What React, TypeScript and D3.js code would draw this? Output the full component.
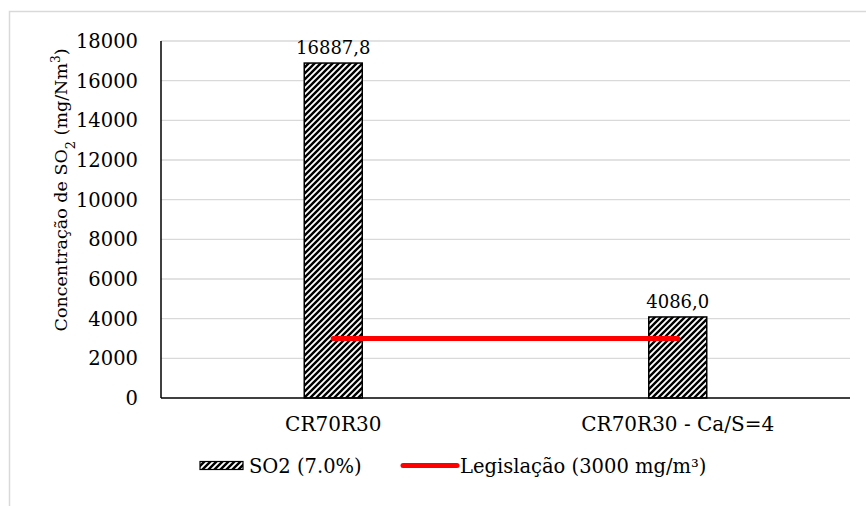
import React from "react";
import * as d3 from "d3";

const categories = ["CR70R30", "CR70R30 - Ca/S=4"];
const so2Values = [16887.8, 4086.0];
const so2Labels = ["16887,8", "4086,0"];
const legislationLimit = 3000;
const yTicks = [0, 2000, 4000, 6000, 8000, 10000, 12000, 14000, 16000, 18000];
const seriesNames = ["SO2 (7.0%)", "Legislação (3000 mg/m³)"];

const W = 866;
const H = 506;
const margin = { left: 161, right: 16, top: 41, bottom: 108 };
const FONT = "DejaVu Serif, serif";
const txt = { fontFamily: FONT, fill: "#000" } as const;

export default function App() {
  const plotW = W - margin.left - margin.right;
  const plotBottom = 398;

  const x = d3.scaleBand<string>().domain(categories).range([margin.left, margin.left + plotW]).paddingInner(0).paddingOuter(0);
  const y = d3.scaleLinear().domain([0, 18000]).range([plotBottom, margin.top]);

  const barW = 58;
  const center = (c: string) => (x(c) ?? 0) + x.bandwidth() / 2;

  return (
    <svg
      width={W}
      height={H}
      style={{ position: "absolute", left: 0, top: 0, background: "#fff", fontFamily: FONT }}
    >
      <defs>
        <pattern id="hatch" patternUnits="userSpaceOnUse" width="6" height="6">
          <rect width="6" height="6" fill="#fff" />
          <path d="M-1,1 l2,-2 M0,6 l6,-6 M5,7 l2,-2" stroke="#000" strokeWidth="2.4" />
        </pattern>
      </defs>

      {/* outer chart frame */}
      <rect x={9.5} y={11.5} width={W + 20} height={H + 20} fill="none" stroke="#d9d9d9" strokeWidth={1.5} />

      {/* gridlines */}
      {yTicks.slice(1).map((t) => (
        <line key={t} x1={margin.left} x2={margin.left + plotW} y1={y(t)} y2={y(t)} stroke="#d9d9d9" strokeWidth={1.3} />
      ))}

      {/* y tick labels */}
      {yTicks.map((t) => (
        <text key={t} x={138} y={y(t)} dy="0.36em" textAnchor="end" fontSize={19.5} style={txt}>
          {t}
        </text>
      ))}

      {/* y axis title */}
      <text transform={`translate(67, 190) rotate(-90)`} textAnchor="middle" fontSize={17.5} style={txt}>
        Concentração de SO<tspan baselineShift="sub" fontSize={13}>2</tspan> (mg/Nm<tspan baselineShift="super" fontSize={12}>3</tspan>)
      </text>

      {/* bars */}
      {categories.map((c, i) => (
        <g key={c}>
          <rect
            x={center(c) - barW / 2}
            y={y(so2Values[i])}
            width={barW}
            height={plotBottom - y(so2Values[i])}
            fill="url(#hatch)"
            stroke="#000"
            strokeWidth={1.5}
          />
          <text x={center(c)} y={y(so2Values[i]) - 9} textAnchor="middle" fontSize={18} style={txt}>
            {so2Labels[i]}
          </text>
          <text x={center(c)} y={431} textAnchor="middle" fontSize={20} style={txt}>
            {c}
          </text>
        </g>
      ))}

      {/* legislation limit line */}
      <line
        x1={center(categories[0])}
        x2={center(categories[1])}
        y1={y(legislationLimit)}
        y2={y(legislationLimit)}
        stroke="#ff0000"
        strokeWidth={5}
        strokeLinecap="round"
      />

      {/* axes */}
      <line x1={margin.left} x2={margin.left} y1={margin.top} y2={plotBottom} stroke="#000" strokeWidth={1.5} />
      <line x1={margin.left} x2={margin.left + plotW} y1={plotBottom} y2={plotBottom} stroke="#000" strokeWidth={1.5} />

      {/* legend */}
      <g>
        <rect x={200} y={461.5} width={43} height={8} fill="url(#hatch)" stroke="#000" strokeWidth={1.2} />
        <text x={249} y={473} fontSize={19.5} style={txt}>{seriesNames[0]}</text>
        <line x1={403} x2={457} y1={465.5} y2={465.5} stroke="#ff0000" strokeWidth={5} strokeLinecap="round" />
        <text x={460} y={473} fontSize={19.5} style={txt}>{seriesNames[1]}</text>
      </g>
    </svg>
  );
}
